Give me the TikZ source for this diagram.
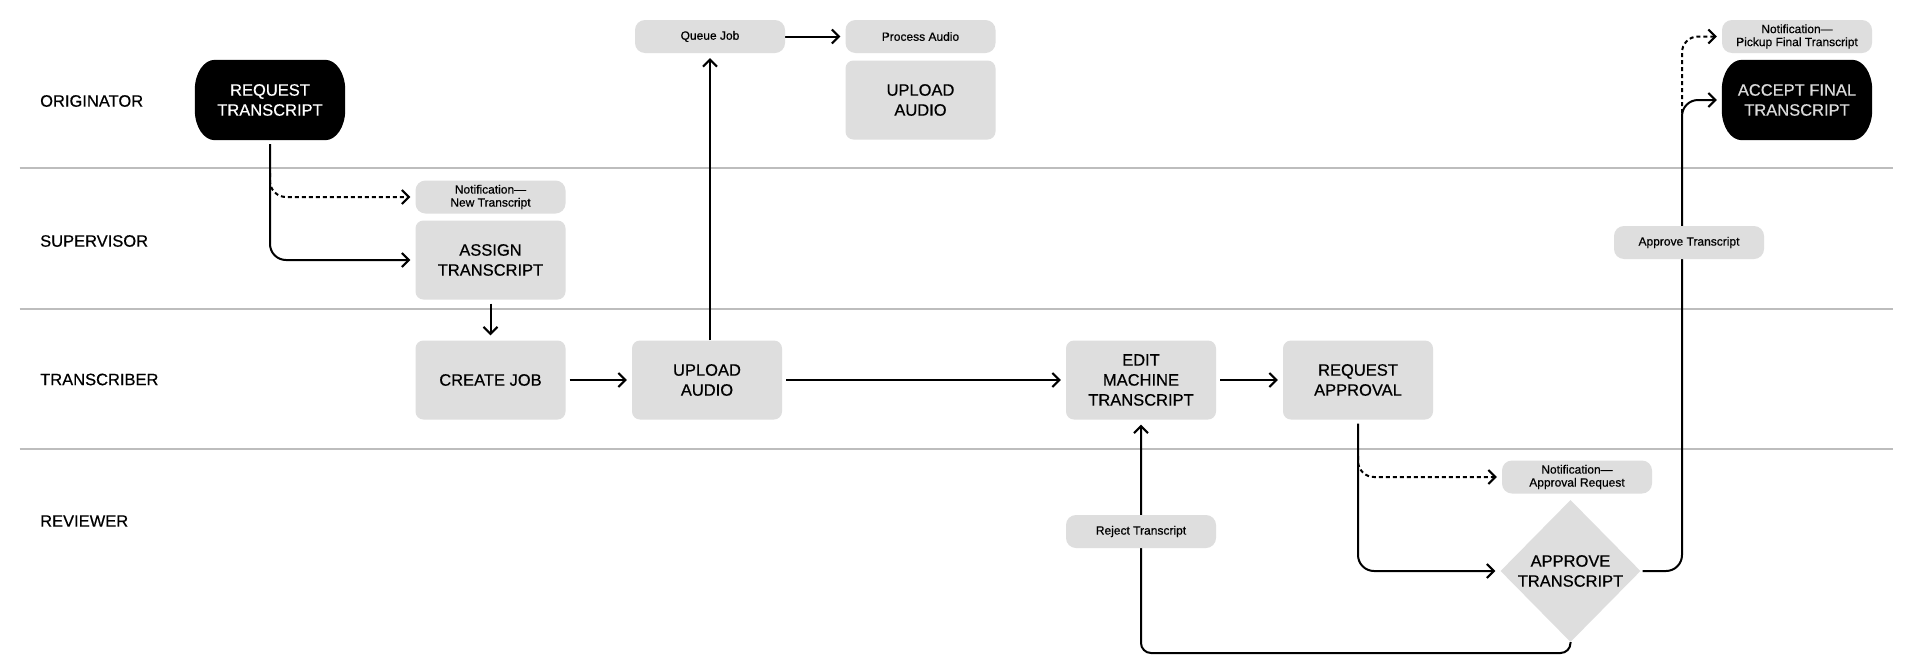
\documentclass[tikz,border=0pt]{standalone}
\usepackage{fontspec}
\setmainfont{Liberation Sans}[FakeBold=0.5]
\usetikzlibrary{arrows.meta,shapes.geometric,backgrounds,calc}
\definecolor{boxgray}{HTML}{DEDEDE}
\definecolor{lanegray}{HTML}{BDBDBD}
\newcommand\termfill[1]{%
  \fill[black] ([xshift=20pt]#1.north west) -- ([xshift=-20pt]#1.north east)
    arc[start angle=90,end angle=0,x radius=20pt,y radius=30pt]
    -- ([yshift=30pt]#1.south east)
    arc[start angle=0,end angle=-90,x radius=20pt,y radius=30pt]
    -- ([xshift=20pt]#1.south west)
    arc[start angle=-90,end angle=-180,x radius=20pt,y radius=30pt]
    -- ([yshift=-30pt]#1.north west)
    arc[start angle=180,end angle=90,x radius=20pt,y radius=30pt] -- cycle;}
\begin{document}
\begin{tikzpicture}[x=1pt,y=-1pt,
  lane/.style={draw=lanegray,line width=2pt},
  lanelabel/.style={anchor=west,font=\fontsize{16.5}{20}\selectfont,inner sep=0pt},
  bigbox/.style={fill=boxgray,rounded corners=8pt,minimum width=150pt,minimum height=79pt,align=center,font=\fontsize{16.5}{20}\selectfont,inner sep=0pt},
  smallbox/.style={fill=boxgray,rounded corners=10pt,minimum width=150pt,minimum height=33pt,align=center,font=\fontsize{12}{13}\selectfont,inner sep=0pt},
  termtext/.style={minimum width=150pt,minimum height=80pt,align=center,font=\fontsize{16.5}{20}\selectfont,text=white,inner sep=0pt},
  conn/.style={draw=black,line width=2pt,-{Straight Barb[length=7pt,width=14pt]},shorten <=4pt,shorten >=5pt},
  dconn/.style={conn,dash pattern=on 4pt off 3pt,shorten <=0pt},
]
\useasboundingbox (0,0) rectangle (1912,662);

% lane labels
\node[lanelabel] (l1) at (40,101) {ORIGINATOR};
\node[lanelabel] (l2) at (40,241) {SUPERVISOR};
\node[lanelabel] (l3) at (40,379.5) {TRANSCRIBER};
\node[lanelabel] (l4) at (40,521) {REVIEWER};

% nodes
\node[termtext] (req) at (270,100) {REQUEST\\TRANSCRIPT};
\node[smallbox] (notifnew) at (490.5,197) {Notification—\\New Transcript};
\node[bigbox] (assign) at (490.5,260) {ASSIGN\\TRANSCRIPT};
\node[bigbox] (create) at (490.5,380) {CREATE JOB};
\node[bigbox] (upload) at (707,380) {UPLOAD\\AUDIO};
\node[smallbox] (queue) at (710,36.5) {Queue Job};
\node[smallbox] (process) at (920.5,36.5) {Process Audio};
\node[bigbox] (uploado) at (920.5,100) {UPLOAD\\AUDIO};
\node[bigbox] (edit) at (1141,380) {EDIT\\MACHINE\\TRANSCRIPT};
\node[bigbox] (reqappr) at (1358,380) {REQUEST\\APPROVAL};
\node[smallbox] (notifappr) at (1577,477) {Notification—\\Approval Request};
\node[diamond,fill=boxgray,minimum width=140pt,minimum height=142pt,inner sep=0pt] (appr) at (1570.5,571) {};
\node[align=center,font=\fontsize{16.5}{20}\selectfont,inner sep=0pt] (apprtext) at (appr.center) {APPROVE\\TRANSCRIPT};
\node[smallbox] (reject) at (1141,531.5) {Reject Transcript};
\node[smallbox] (approve) at (1689,242.5) {Approve Transcript};
\node[smallbox] (notifpick) at (1797,36.5) {Notification—\\Pickup Final Transcript};
\node[termtext,text=white!86!black] (accept) at (1797,100) {ACCEPT FINAL\\TRANSCRIPT};

\coordinate (reqbr) at (270,173);
\coordinate (rabr) at (1358,456);
\coordinate (accbend) at (1682,100);
\coordinate (accbr) at (1682,113);
\coordinate (rejbend) at (1570.5,653);

\begin{scope}[on background layer]
  \fill[white] (0,0) rectangle (1912,662);
  \draw[lane] (19.5,168.3) -- (1892.5,168.3);
  \draw[lane] (19.5,308.5) -- (1892.5,308.5);
  \draw[lane] (19.5,448.7) -- (1892.5,448.7);
  \termfill{req}
  \termfill{accept}
  % connectors
  \draw[conn,rounded corners=16pt] (req.south) |- (assign.west);
  \draw[dconn,rounded corners=16pt] (reqbr) |- (notifnew.west);
  \draw[conn] (assign.south) -- (create.north);
  \draw[conn] (create.east) -- (upload.west);
  \draw[conn,shorten <=0pt] (queue.south |- upload.north) -- (queue.south);
  \draw[conn,shorten <=0pt] (queue.east) -- (process.west);
  \draw[conn] (upload.east) -- (edit.west);
  \draw[conn] (edit.east) -- (reqappr.west);
  \draw[conn,rounded corners=16pt] (reqappr.south) |- (appr.west);
  \draw[dconn,rounded corners=16pt] (rabr) |- (notifappr.west);
  \draw[conn,rounded corners=16pt,shorten <=2pt] (appr.east) -| (accbend) -- (accept.west);
  \draw[dconn,rounded corners=16pt] (accbr) |- (notifpick.west);
  \draw[conn,rounded corners=10pt,shorten <=0pt] (appr.south) -- (rejbend) -| (edit.south);
\end{scope}
\end{tikzpicture}
\end{document}
